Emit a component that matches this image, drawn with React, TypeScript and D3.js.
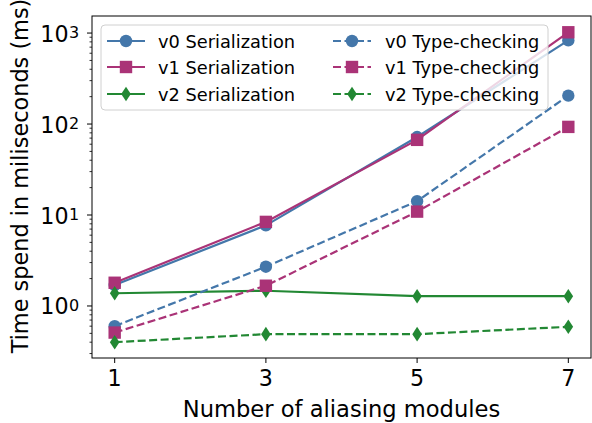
import * as d3 from 'd3'

// valores (escala log no eixo y)
const modules = [1, 3, 5, 7]
const v0Serialization = [1.7, 7.7, 72, 830]
const v1Serialization = [1.8, 8.4, 67, 1020]
const v2Serialization = [1.38, 1.47, 1.28, 1.28]
const v0TypeChecking = [0.6, 2.7, 14.2, 205]
const v1TypeChecking = [0.51, 1.67, 10.9, 93]
const v2TypeChecking = [0.4, 0.49, 0.49, 0.59]
const xTicks = [1, 3, 5, 7]
const yDecades = [0, 1, 2, 3]

const BLUE = '#4477aa', PURPLE = '#aa3377', GREEN = '#228833'

const SERIES = [
  { name: 'v0 Serialization', values: v0Serialization, color: BLUE, marker: 'circle', dashed: false },
  { name: 'v1 Serialization', values: v1Serialization, color: PURPLE, marker: 'square', dashed: false },
  { name: 'v2 Serialization', values: v2Serialization, color: GREEN, marker: 'diamond', dashed: false },
  { name: 'v0 Type-checking', values: v0TypeChecking, color: BLUE, marker: 'circle', dashed: true },
  { name: 'v1 Type-checking', values: v1TypeChecking, color: PURPLE, marker: 'square', dashed: true },
  { name: 'v2 Type-checking', values: v2TypeChecking, color: GREEN, marker: 'diamond', dashed: true },
]

const W = 592, H = 423
const M = { top: 16, right: 1, bottom: 65, left: 92 }
const FONT = 'DejaVu Sans, sans-serif'
const DASH = '8,3.5'

function Marker({ kind, x, y, color }: { kind: string; x: number; y: number; color: string }) {
  if (kind === 'circle') return <circle cx={x} cy={y} r={6.2} fill={color} />
  if (kind === 'square') return <rect x={x - 6.2} y={y - 6.2} width={12.4} height={12.4} fill={color} />
  return <path d={`M${x},${y - 7.3}L${x + 4.8},${y}L${x},${y + 7.3}L${x - 4.8},${y}Z`} fill={color} />
}

export default function App() {
  const iw = W - M.left - M.right
  const ih = H - M.top - M.bottom
  const x = d3.scaleLinear().domain([0.7, 7.3]).range([0, iw])
  const y = d3.scaleLog().domain([0.268, 1540]).range([ih, 0])

  const line = d3.line<number>()
    .x((d, i) => x(modules[i]))
    .y(d => y(d))

  const minor: number[] = []
  for (let e = -1; e <= 3; e++) {
    for (let k = 2; k <= 9; k++) {
      const v = k * Math.pow(10, e)
      if (v >= 0.268 && v <= 1540) minor.push(v)
    }
  }

  const legendRows = [41, 67, 94]
  const legendCols = [{ lx: 15, tx: 66 }, { lx: 241, tx: 293 }]

  return (
    <svg width={W} height={H} style={{ position: 'absolute', left: 0, top: 0, background: '#fff' }}
      fontFamily={FONT}>
      <g transform={`translate(${M.left},${M.top})`}>
        {/* séries */}
        {SERIES.map(s => (
          <g key={s.name}>
            <path d={line(s.values) || ''} fill="none" stroke={s.color} strokeWidth={2.2}
              strokeDasharray={s.dashed ? DASH : undefined} />
            {s.values.map((v, i) => (
              <Marker key={i} kind={s.marker} x={x(modules[i])} y={y(v)} color={s.color} />
            ))}
          </g>
        ))}

        {/* eixos */}
        <rect x={0} y={0} width={iw} height={ih} fill="none" stroke="#000" strokeWidth={1} />
        {xTicks.map(t => (
          <g key={t} transform={`translate(${x(t)},${ih})`}>
            <line y2={5} stroke="#000" />
            <text y={28} textAnchor="middle" fontSize={22.2}>{t}</text>
          </g>
        ))}
        {minor.map(v => (
          <line key={v} x1={-2.5} x2={0} y1={y(v)} y2={y(v)} stroke="#000" strokeWidth={0.8} />
        ))}
        {yDecades.map(e => (
          <g key={e} transform={`translate(0,${y(Math.pow(10, e))})`}>
            <line x1={-5} x2={0} stroke="#000" />
            <text x={-23.5} y={8.5} textAnchor="end" fontSize={22.2}>10</text>
            <text x={-23} y={5} textAnchor="start" fontSize={16}>{e}</text>
          </g>
        ))}

        {/* legenda */}
        <rect x={9} y={9} width={447} height={85} rx={4} fill="#fff" fillOpacity={0.8}
          stroke="#d0d0d0" strokeWidth={1} />
        {SERIES.map((s, i) => {
          const col = legendCols[Math.floor(i / 3)]
          const ry = legendRows[i % 3] - M.top
          return (
            <g key={s.name}>
              <line x1={col.lx} x2={col.lx + 38} y1={ry} y2={ry} stroke={s.color} strokeWidth={2.2}
                strokeDasharray={s.dashed ? DASH : undefined} />
              <Marker kind={s.marker} x={col.lx + 19} y={ry} color={s.color} />
              <text x={col.tx} y={ry + 6.5} fontSize={17.8}>{s.name}</text>
            </g>
          )
        })}
      </g>
      <text x={M.left + iw / 2} y={417} textAnchor="middle" fontSize={22.6}>Number of aliasing modules</text>
      <text transform={`translate(28,176) rotate(-90)`} textAnchor="middle" fontSize={22.4}>
        Time spend in miliseconds (ms)
      </text>
    </svg>
  )
}
